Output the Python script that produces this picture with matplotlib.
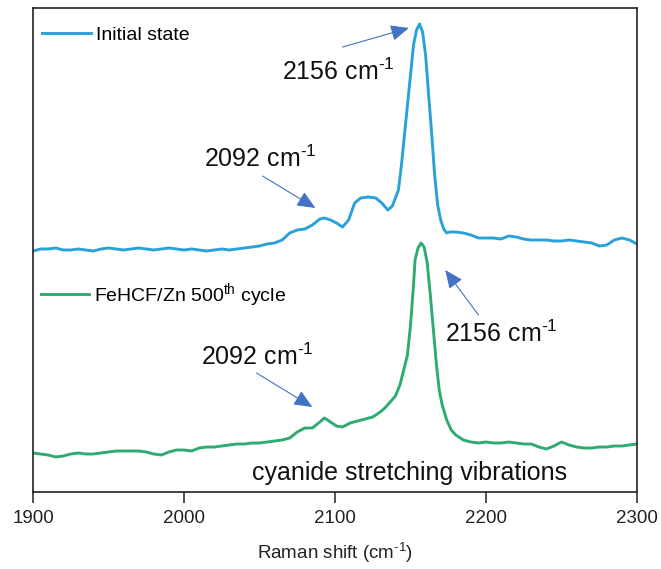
import matplotlib
matplotlib.use("Agg")
import matplotlib.pyplot as plt

plt.rcParams["font.family"] = ["Liberation Sans", "DejaVu Sans"]
plt.rcParams["mathtext.fontset"] = "custom"
plt.rcParams["mathtext.rm"] = "Liberation Sans"
plt.rcParams["mathtext.default"] = "regular"

# Raman spectra (cyanide stretching region), stacked with a vertical offset (a.u.)
shift_initial = [1900, 1905, 1910, 1915, 1920, 1925, 1930, 1935, 1940, 1945, 1950, 1955,
                 1960, 1965, 1970, 1975, 1980, 1985, 1990, 1995, 2000, 2005, 2010, 2015,
                 2020, 2025, 2030, 2035, 2040, 2045, 2050, 2055, 2060, 2065, 2070, 2075,
                 2080, 2085, 2090, 2093, 2097, 2101, 2105, 2109, 2113, 2117, 2122, 2127,
                 2131, 2135, 2138, 2140, 2142, 2144, 2146, 2148, 2150, 2152, 2154, 2156,
                 2158, 2160, 2162, 2164, 2166, 2168, 2170, 2172, 2174, 2176, 2180, 2185,
                 2190, 2195, 2200, 2205, 2210, 2215, 2220, 2225, 2230, 2235, 2240, 2245,
                 2250, 2255, 2260, 2265, 2270, 2275, 2280, 2285, 2290, 2295, 2300]
intensity_initial = [241, 243, 243, 244, 242, 242, 243, 242, 241, 243, 244, 243,
                     242, 243, 244, 243, 242, 243, 244, 243, 242, 243, 242, 241,
                     242, 243, 242, 243, 244, 245, 246, 248, 249, 252, 259, 262,
                     263, 267, 273, 274, 272, 269, 265, 272, 289, 294, 295, 294,
                     289, 282, 286, 294, 302, 327, 357, 387, 417, 447, 462, 468,
                     460, 437, 397, 359, 317, 287, 272, 263, 259, 260, 260, 259,
                     257, 254, 254, 254, 253, 256, 255, 253, 252, 252, 252, 251,
                     251, 252, 251, 250, 249, 246, 247, 252, 254, 252, 248]

shift_cycled = [1900, 1905, 1910, 1915, 1920, 1925, 1930, 1935, 1940, 1945, 1950, 1955,
                1960, 1965, 1970, 1975, 1980, 1985, 1990, 1995, 2000, 2005, 2010, 2015,
                2020, 2025, 2030, 2035, 2040, 2045, 2050, 2055, 2060, 2065, 2070, 2075,
                2080, 2085, 2090, 2093, 2097, 2101, 2105, 2110, 2115, 2120, 2125, 2130,
                2133, 2136, 2140, 2143, 2146, 2148, 2150, 2152, 2153, 2155, 2157, 2159,
                2161, 2163, 2165, 2167, 2169, 2171, 2174, 2177, 2180, 2185, 2190, 2195,
                2200, 2205, 2210, 2215, 2220, 2225, 2230, 2235, 2240, 2245, 2250, 2255,
                2260, 2265, 2270, 2275, 2280, 2285, 2290, 2295, 2300]
intensity_cycled = [39, 38, 37, 35, 36, 38, 39, 38, 38, 39, 40, 41,
                    41, 41, 41, 40, 38, 37, 40, 42, 42, 41, 44, 45,
                    45, 46, 47, 48, 48, 49, 49, 50, 51, 52, 54, 60,
                    64, 64, 70, 74, 70, 66, 65, 69, 71, 73, 75, 80,
                    84, 89, 96, 107, 125, 137, 167, 207, 232, 244, 249, 245,
                    230, 199, 165, 130, 102, 87, 72, 62, 57, 52, 50, 49,
                    50, 49, 49, 50, 49, 48, 48, 45, 43, 46, 50, 47,
                    45, 44, 44, 45, 45, 46, 46, 47, 48]

series_labels = ["Initial state", "FeHCF/Zn 500$^{th}$ cycle"]
series_colors = ["#2AA1D7", "#2DAB70"]

WAVENUMBER = r"cm$^{\text{-}1}$"

# peak annotations: (label, label anchor, arrow tail, arrow tip) in data units
peak_notes = [
    ("2156 " + WAVENUMBER, (2065, 412), (2105, 445), (2149, 464)),
    ("2092 " + WAVENUMBER, (2013, 325), (2052, 316), (2087, 284)),
    ("2092 " + WAVENUMBER, (2011, 127), (2048, 119), (2085, 85)),
    ("2156 " + WAVENUMBER, (2173, 150), (2195, 177), (2173, 222)),
]

fig = plt.figure(figsize=(6.61, 5.69), dpi=100)
ax = fig.add_axes([33 / 661, 77 / 569, 604 / 661, 484 / 569])

line_init, = ax.plot(shift_initial, intensity_initial, color=series_colors[0], lw=2.1)
line_cyc, = ax.plot(shift_cycled, intensity_cycled, color=series_colors[1], lw=2.1)

ax.set_xlim(1900, 2300)
ax.set_ylim(0, 484)
ax.set_xticks([1900, 2000, 2100, 2200, 2300])
ax.set_yticks([])
ax.tick_params(axis="x", direction="out", length=8, width=1.1, pad=5,
               labelsize=13.5, colors="#222222")
for sp in ax.spines.values():
    sp.set_linewidth(1.2)
    sp.set_color("#222222")
ax.set_xlabel("Raman shift (" + WAVENUMBER + ")", fontsize=13.5, labelpad=10,
              color="#222222")

leg1 = ax.legend([line_init], [series_labels[0]], loc="center left",
                 bbox_to_anchor=(0.015, 0.944), frameon=False, fontsize=14,
                 handlelength=2.5, handletextpad=0.25, borderpad=0, borderaxespad=0)
ax.add_artist(leg1)
ax.legend([line_cyc], [series_labels[1]], loc="center left",
          bbox_to_anchor=(0.013, 0.407), frameon=False, fontsize=14,
          handlelength=2.5, handletextpad=0.25, borderpad=0, borderaxespad=0)

for label, txt_pos, tail, tip in peak_notes:
    ax.text(txt_pos[0], txt_pos[1], label, fontsize=18, ha="left", va="baseline",
            color="#111111")
    ax.annotate("", xy=tip, xytext=tail,
                arrowprops=dict(arrowstyle="-|>,head_length=0.8,head_width=0.35",
                                mutation_scale=14, lw=0.8, color="#4472C4",
                                shrinkA=0, shrinkB=0))

ax.text(2045, 12, "cyanide stretching vibrations", fontsize=18, ha="left",
        va="baseline", color="#111111")

fig.savefig("out.png", dpi=100)
